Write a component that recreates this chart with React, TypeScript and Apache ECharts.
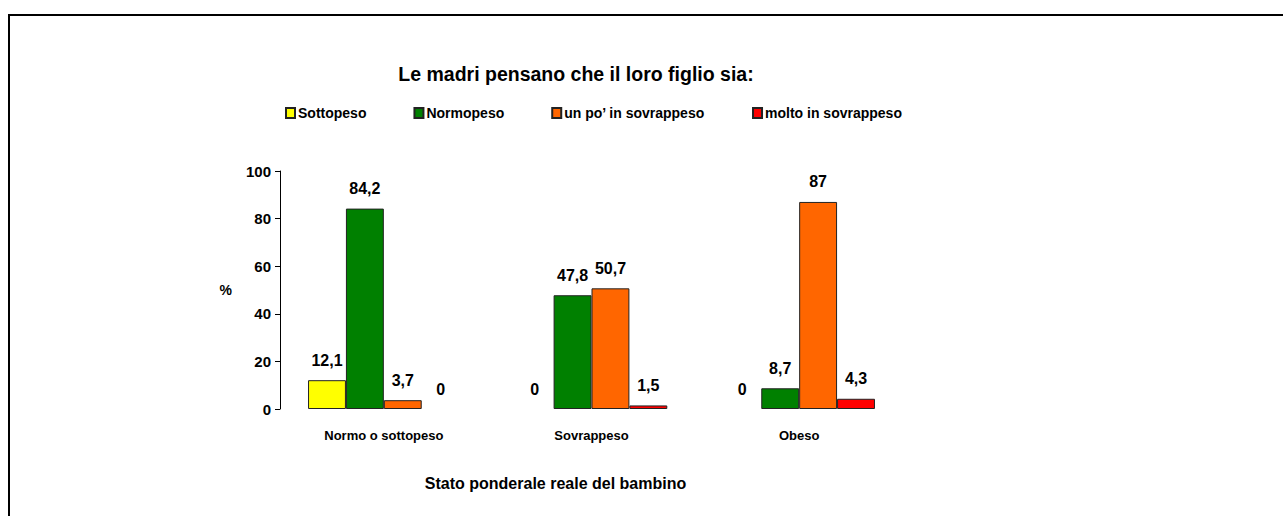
import React, { useEffect, useRef } from "react";
import * as echarts from "echarts";

const categories = ["Normo o sottopeso", "Sovrappeso", "Obeso"];
const seriesNames = ["Sottopeso", "Normopeso", "un po\u2019 in sovrappeso", "molto in sovrappeso"];
const sottopeso = [12.1, 0, 0];
const normopeso = [84.2, 47.8, 8.7];
const unPoSovrappeso = [3.7, 50.7, 87];
const moltoSovrappeso = [0, 1.5, 4.3];
const seriesColors = ["#FFFF00", "#008000", "#FF6600", "#FF0000"];
const yTicks = [0, 20, 40, 60, 80, 100];

const FONT = "'Liberation Sans', Arial, sans-serif";

export default function App() {
  const ref = useRef<HTMLDivElement>(null);
  useEffect(() => {
    document.body.style.margin = "0";
    if (!ref.current) return;
    const chart = echarts.init(ref.current, null, { renderer: "svg" });
    const allValues = [sottopeso, normopeso, unPoSovrappeso, moltoSovrappeso];
    const series = allValues.map((vals, i) => ({
      name: seriesNames[i],
      type: "bar",
      barGap: "0%",
      barCategoryGap: "27%",
      itemStyle: { color: seriesColors[i], borderColor: "#222", borderWidth: 1 },
      label: {
        show: true,
        position: "top",
        distance: 12,
        fontFamily: FONT,
        fontWeight: "bold",
        fontSize: 16,
        color: "#000",
        formatter: (p: any) => String(p.value).replace(".", ","),
      },
      data: vals.map((v) => (v === 0 ? { value: 0, itemStyle: { borderWidth: 0 } } : v)),
    }));
    chart.setOption({
      animation: false,
      backgroundColor: "#fff",
      title: {
        text: "Le madri pensano che il loro figlio sia:",
        left: 576,
        top: 64,
        padding: 0,
        textAlign: "center",
        textStyle: { fontFamily: FONT, fontWeight: "bold", fontSize: 19.5, color: "#000" },
      },
      legend: {
        left: 285,
        top: 106,
        padding: 0,
        itemWidth: 9,
        itemHeight: 10,
        itemGap: 47,
        icon: "rect",
        textStyle: { fontFamily: FONT, fontWeight: "bold", fontSize: 14, color: "#000", padding: [0, 0, 0, -2] },
        data: seriesNames,
      },
      grid: { left: 280, right: 380, top: 171, bottom: 107 },
      xAxis: {
        type: "category",
        data: categories,
        axisLine: { show: false },
        axisTick: { show: false },
        axisLabel: { margin: 20, fontFamily: FONT, fontWeight: "bold", fontSize: 13, color: "#000" },
        name: "Stato ponderale reale del bambino",
        nameLocation: "middle",
        nameGap: 66,
        nameTextStyle: { fontFamily: FONT, fontWeight: "bold", fontSize: 16, color: "#000", padding: [0, 72, 0, 0] },
      },
      yAxis: {
        type: "value",
        min: yTicks[0],
        max: yTicks[yTicks.length - 1],
        interval: 20,
        splitLine: { show: false },
        axisLine: { show: true, lineStyle: { color: "#000", width: 1 } },
        axisTick: { show: true, length: 5, lineStyle: { color: "#000" } },
        axisLabel: { margin: 9, fontFamily: FONT, fontWeight: "bold", fontSize: 15, color: "#000" },
        name: "%",
        nameLocation: "middle",
        nameRotate: 0,
        nameGap: 48,
        nameTextStyle: { fontFamily: FONT, fontWeight: "bold", fontSize: 14, color: "#000" },
      },
      graphic: [
        {
          type: "rect",
          shape: { x: 9, y: 15, width: 1400, height: 700 },
          style: { fill: "none", stroke: "#000", lineWidth: 2 },
          silent: true,
        },
      ],
      series,
    });
    return () => chart.dispose();
  }, []);
  return <div ref={ref} style={{ width: 1283, height: 516 }} />;
}
